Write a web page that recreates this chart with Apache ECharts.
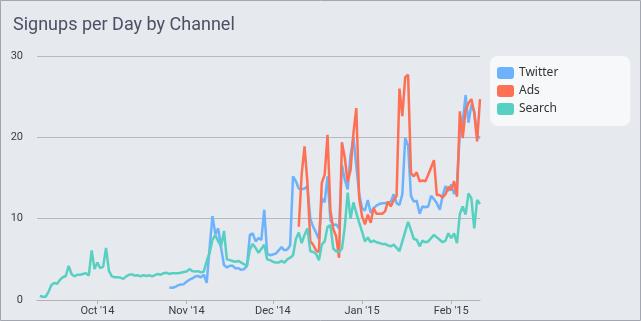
<!DOCTYPE html>
<html><head><meta charset="utf-8">
<script src="https://cdn.jsdelivr.net/npm/echarts@6/dist/echarts.min.js"></script>
<style>html,body{margin:0;padding:0;background:#e6e9ee}#c{width:641px;height:321px}</style>
</head><body><div id="c"></div>
<script>
// Daily categories: 2014-09-10 .. 2015-02-11
const startDate = '2014-09-10';
const dayCount = 155;
const tickDates = ['2014-10-01', '2014-11-01', '2014-12-01', '2015-01-01', '2015-02-01'];
const tickLabels = ["Oct '14", "Nov '14", "Dec '14", "Jan '15", "Feb '15"];
const yTicks = [0, 10, 20, 30];
const seriesNames = ['Twitter', 'Ads', 'Search'];

const twitter = [
  null,null,null,null,null,null,null,null,null,null,null,null,null,null,null,null,null,null,null,null,null,null,null,null,null,null,null,null,null,null,null,null,null,null,null,null,null,null,null,null,null,null,null,null,null,null,
  1.55,1.5,1.6,1.8,1.9,1.95,2.25,2.5,2.65,2.9,2.95,2.8,3.1,2.1,6.4,10.3,8.1,8.8,6.4,4.3,
  4.0,4.2,4.2,3.9,3.9,3.7,3.8,4.2,8.0,8.2,7.2,7.6,7.4,11.1,5.7,5.5,5.6,5.7,6.1,6.5,
  6.1,6.2,6.7,15.2,14.6,13.7,13.6,13.7,14.0,10.0,9.0,8.3,7.5,12.5,12.0,15.2,9.8,9.2,9.3,8.8,
  16.6,14.8,13.6,17.8,20.0,16.5,13.0,11.3,11.0,12.3,10.7,11.3,11.6,11.8,11.9,11.9,12.0,12.1,13.0,11.9,
  11.7,13.0,19.9,19.0,12.8,12.1,12.2,10.6,11.5,11.4,11.5,12.8,12.4,11.9,11.1,12.8,14.0,13.4,14.2,13.0,
  14.3,20.6,22.0,25.2,21.8,24.0,23.2,20.2,19.9
];
const ads = [
  null,null,null,null,null,null,null,null,null,null,null,null,null,null,null,null,null,null,null,null,
  null,null,null,null,null,null,null,null,null,null,null,null,null,null,null,null,null,null,null,null,
  null,null,null,null,null,null,null,null,null,null,null,null,null,null,null,null,null,null,null,null,
  null,null,null,null,null,null,null,null,null,null,null,null,null,null,null,null,null,null,null,null,
  null,null,null,null,null,null,null,null,null,null,null,
  9.0,15.4,18.9,14.5,7.2,6.8,6.1,5.9,14.4,15.4,20.3,11.0,8.7,7.8,5.2,19.4,17.5,14.5,16.0,20.5,
  23.6,12.5,10.3,9.3,10.5,9.5,11.3,10.6,10.6,10.6,10.9,12.1,11.5,12.3,12.8,26.0,22.6,27.4,27.7,15.6,
  15.2,15.7,14.6,14.7,14.6,15.4,16.3,17.2,12.9,12.9,12.6,13.0,13.9,13.5,14.6,12.7,23.2,19.9,23.4,24.2,
  24.7,23.0,19.5,24.7
];
const search = [
  null,
  0.5,0.4,0.4,1.0,1.85,2.1,2.0,2.5,2.8,2.95,4.2,3.2,2.9,3.1,3.1,3.2,3.3,3.0,6.1,3.8,
  4.6,3.9,4.1,6.4,3.6,2.9,2.8,2.8,2.75,2.6,2.9,3.1,3.15,3.0,3.05,2.9,3.05,2.95,3.05,2.9,
  3.05,3.2,3.1,3.3,3.35,3.2,3.3,3.3,3.3,3.35,3.45,3.5,3.8,3.55,3.5,3.55,3.4,3.5,4.8,5.8,
  7.4,8.0,7.2,6.6,8.5,5.0,4.9,4.8,4.7,4.8,4.6,4.4,4.2,6.2,6.9,6.4,5.8,6.3,6.8,5.0,
  4.9,4.7,4.6,4.6,4.8,4.6,5.0,5.2,5.5,7.5,8.3,7.0,8.0,8.8,6.0,5.9,5.7,4.9,6.8,7.2,
  9.0,9.2,6.3,6.0,5.9,6.3,9.0,13.2,10.0,12.0,10.7,9.5,8.4,7.2,7.7,7.1,7.3,7.1,7.0,6.9,
  6.9,6.7,6.6,6.8,6.4,6.0,7.2,8.4,9.6,8.6,7.5,7.4,6.6,7.3,7.1,7.2,7.6,8.0,7.7,7.4,
  7.1,7.3,8.2,7.6,8.2,7.0,10.6,11.5,10.5,13.1,12.5,8.8,12.3,11.8
];

function pad(n) { return n < 10 ? '0' + n : '' + n; }
const categories = [];
{
  const d0 = new Date(startDate + 'T00:00:00Z');
  for (let i = 0; i < dayCount; i++) {
    const d = new Date(d0.getTime() + i * 86400000);
    categories.push(d.getUTCFullYear() + '-' + pad(d.getUTCMonth() + 1) + '-' + pad(d.getUTCDate()));
  }
}
const isTick = (idx, val) => tickDates.indexOf(val) >= 0;

const colors = ['#6db3fb', '#fe7053', '#55d0c1'];
const chart = echarts.init(document.getElementById('c'), null, {renderer: 'canvas'});
chart.setOption({
  animation: false,
  backgroundColor: '#e6e9ee',
  color: colors,
  title: {
    text: 'Signups per Day by Channel',
    left: 8, top: 11,
    textStyle: {fontFamily: 'Roboto', fontSize: 18, fontWeight: 'normal', color: '#4b5064'}
  },
  graphic: [{
    type: 'rect', silent: true,
    shape: {x: 0.5, y: 0.5, width: 640, height: 320},
    style: {fill: 'none', stroke: '#a3a6ae', lineWidth: 1}
  }],
  legend: {
    orient: 'vertical',
    left: 490, top: 56,
    padding: [11, 72, 11, 7],
    backgroundColor: '#f7f8fa',
    borderRadius: 8,
    itemWidth: 17, itemHeight: 12, itemGap: 6,
    icon: 'roundRect',
    data: seriesNames,
    textStyle: {fontFamily: 'Noto Sans', fontSize: 12, color: '#333'}
  },
  grid: {left: 37, right: 161, top: 56, bottom: 21},
  xAxis: {
    type: 'category',
    data: categories,
    boundaryGap: false,
    axisLine: {lineStyle: {color: '#b3b3b3', width: 1}},
    axisTick: {interval: isTick, length: 4, lineStyle: {color: '#b3b3b3'}},
    axisLabel: {
      interval: isTick, margin: 6,
      fontFamily: 'Roboto', fontSize: 11, color: '#3a3d48',
      formatter: v => tickLabels[tickDates.indexOf(v)]
    },
    splitLine: {show: false}
  },
  yAxis: {
    type: 'value', min: yTicks[0], max: yTicks[yTicks.length - 1], interval: 10,
    axisLine: {show: false}, axisTick: {show: false},
    axisLabel: {margin: 14, fontFamily: 'Roboto', fontSize: 11, color: '#3a3d48'},
    splitLine: {lineStyle: {color: '#b7b9bc', width: 1}}
  },
  series: [
    {name: seriesNames[0], type: 'line', data: twitter, showSymbol: false, lineStyle: {width: 2.5}},
    {name: seriesNames[1], type: 'line', data: ads, showSymbol: false, lineStyle: {width: 2.5}},
    {name: seriesNames[2], type: 'line', data: search, showSymbol: false, lineStyle: {width: 2.5}}
  ]
});
</script></body></html>
